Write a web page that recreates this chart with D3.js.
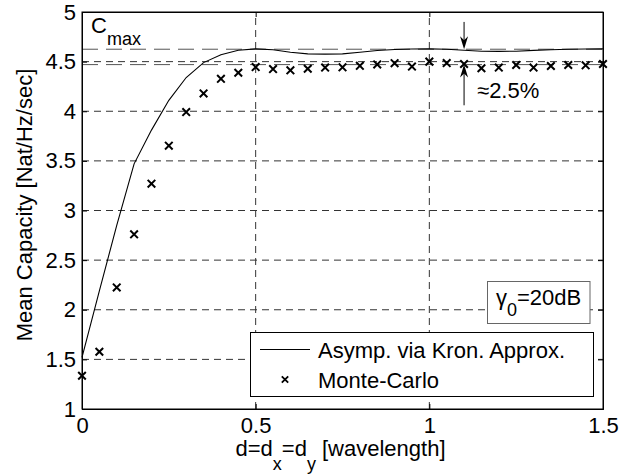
<!DOCTYPE html>
<html><head><meta charset="utf-8">
<script src="https://cdn.jsdelivr.net/npm/d3@7"></script>
<style>
html,body{margin:0;padding:0;background:#fff;}
svg text{font-family:"Liberation Sans",Arial,sans-serif;fill:#000;}
</style></head>
<body><svg id="c" width="640" height="474"></svg>
<script>
// ---- data ----
const dVals   = [0,0.05,0.1,0.15,0.2,0.25,0.3,0.35,0.4,0.45,0.5,0.55,0.6,0.65,0.7,0.75,0.8,0.85,0.9,0.95,1.0,1.05,1.1,1.15,1.2,1.25,1.3,1.35,1.4,1.45,1.5];
const asympC  = [1.52,2.19,2.85,3.47,3.81,4.11,4.34,4.49,4.57,4.615,4.628,4.62,4.595,4.578,4.576,4.578,4.595,4.612,4.622,4.627,4.628,4.624,4.615,4.605,4.603,4.605,4.613,4.62,4.625,4.627,4.628];
const monteC  = [1.335,1.577,2.225,2.76,3.27,3.653,3.992,4.18,4.327,4.388,4.445,4.425,4.412,4.428,4.44,4.443,4.458,4.472,4.484,4.45,4.5,4.485,4.476,4.433,4.44,4.466,4.44,4.456,4.466,4.463,4.476];
const xTicks  = [0,0.5,1,1.5];
const yTicks  = [1,1.5,2,2.5,3,3.5,4,4.5,5];
const refLines = [4.625,4.47];           // C_max and ~2.5% below
const arrowX  = 1.1;
const arrowDown = [4.9,4.625];           // from, to
const arrowUp   = [4.06,4.47];           // from, to
const legendLabels = ["Asymp. via Kron. Approx.","Monte-Carlo"];

// ---- layout ----
const svg = d3.select("#c");
const L=82,R=603,T=12,B=409;
const x = d3.scaleLinear().domain([0,1.5]).range([L,R]);
const y = d3.scaleLinear().domain([1,5]).range([B,T]);
const FS = 22, SUB = 18;

// grid
const g = svg.append("g");
g.selectAll(".gy").data(yTicks.filter(v=>v>1&&v<5)).join("line")
  .attr("x1",L).attr("x2",R).attr("y1",d=>y(d)).attr("y2",d=>y(d))
  .attr("stroke","#333").attr("stroke-width",1).attr("stroke-dasharray","7,5");
g.selectAll(".gx").data(xTicks.filter(v=>v>0&&v<1.5)).join("line")
  .attr("y1",B).attr("y2",T).attr("x1",d=>x(d)).attr("x2",d=>x(d))
  .attr("stroke","#333").attr("stroke-width",1).attr("stroke-dasharray","7,5");

// reference lines
g.selectAll(".ref").data(refLines).join("line")
  .attr("x1",L).attr("x2",R).attr("y1",d=>y(d)).attr("y2",d=>y(d))
  .attr("stroke","#555").attr("stroke-width",1).attr("stroke-dasharray","16,8");

// asymptotic curve
svg.append("path").datum(dVals.map((d,i)=>[d,asympC[i]]))
  .attr("d",d3.line().x(d=>x(d[0])).y(d=>y(d[1])))
  .attr("fill","none").attr("stroke","#000").attr("stroke-width",1.1);

// monte carlo markers
const cross = s=>`M${-s},${-s}L${s},${s}M${-s},${s}L${s},${-s}`;
svg.selectAll(".mc").data(dVals.map((d,i)=>[d,monteC[i]])).join("path")
  .attr("transform",d=>`translate(${x(d[0])},${y(d[1])})`)
  .attr("d",cross(3.8)).attr("stroke","#000").attr("stroke-width",2).attr("fill","none");

// axes
const ax = d3.axisBottom(x).tickValues(xTicks).tickSize(-5).tickPadding(8).tickFormat(d3.format("~g"));
const ay = d3.axisLeft(y).tickValues(yTicks).tickSize(-5).tickPadding(6).tickFormat(d3.format("~g"));
const gx = svg.append("g").attr("transform",`translate(0,${B})`).call(ax);
const gy = svg.append("g").attr("transform",`translate(${L},0)`).call(ay);
svg.append("g").attr("transform",`translate(0,${T})`).call(d3.axisTop(x).tickValues(xTicks).tickSize(-5).tickFormat(""));
svg.append("g").attr("transform",`translate(${R},0)`).call(d3.axisRight(y).tickValues(yTicks).tickSize(-5).tickFormat(""));
svg.selectAll(".domain").attr("stroke","#000");
svg.selectAll(".tick line").attr("stroke","#000");
gx.selectAll("text").attr("font-size",FS).attr("font-family","Liberation Sans, Arial").attr("fill","#000").attr("dy","0.71em");
gy.selectAll("text").attr("font-size",FS).attr("font-family","Liberation Sans, Arial").attr("fill","#000");
svg.append("rect").attr("x",L).attr("y",T).attr("width",R-L).attr("height",B-T)
  .attr("fill","none").attr("stroke","#000").attr("stroke-width",1);

// axis labels
const xl = svg.append("text").attr("x",(L+R)/2 - 2).attr("y",456).attr("text-anchor","middle").attr("font-size",FS);
xl.append("tspan").text("d=d");
xl.append("tspan").attr("font-size",SUB).attr("dy",14).text("x");
xl.append("tspan").attr("dy",-14).text("=d");
xl.append("tspan").attr("font-size",SUB).attr("dy",14).text("y");
xl.append("tspan").attr("dy",-14).text(" [wavelength]");
svg.append("text").attr("transform","translate(32,205) rotate(-90)")
  .attr("text-anchor","middle").attr("font-size",FS).text("Mean Capacity [Nat/Hz/sec]");

// C_max label
const cm = svg.append("text").attr("x",91).attr("y",33).attr("font-size",FS);
cm.append("tspan").text("C");
cm.append("tspan").attr("font-size",SUB).attr("dy",12).text("max");

// arrows
function arrow(xv,from,to){
  const x0=x(xv), y0=y(from), y1=y(to);
  const dir = Math.sign(y1-y0);
  svg.append("line").attr("x1",x0).attr("x2",x0).attr("y1",y0).attr("y2",y1-dir*8)
    .attr("stroke","#000").attr("stroke-width",1);
  svg.append("path").attr("d",`M${x0},${y1}L${x0-4},${y1-dir*13}L${x0},${y1-dir*9}L${x0+4},${y1-dir*13}Z`)
    .attr("fill","#000");
}
arrow(arrowX,arrowDown[0],arrowDown[1]);
arrow(arrowX,arrowUp[0],arrowUp[1]);
svg.append("text").attr("x",x(arrowX)+13).attr("y",98).attr("font-size",FS).text("\u22482.5%");

// gamma box
svg.append("rect").attr("x",487.5).attr("y",281.5).attr("width",102.5).attr("height",42)
  .attr("fill","#fff").attr("stroke","#666").attr("stroke-width",1);
const gt = svg.append("text").attr("x",496).attr("y",305).attr("font-size",FS);
gt.append("tspan").text("\u03B3");
gt.append("tspan").attr("font-size",SUB).attr("dy",11).text("0");
gt.append("tspan").attr("dy",-11).text("=20dB");

// legend
svg.append("rect").attr("x",250.5).attr("y",332.5).attr("width",343).attr("height",64)
  .attr("fill","#fff").attr("stroke","#000").attr("stroke-width",1);
svg.append("line").attr("x1",260).attr("x2",310).attr("y1",349.5).attr("y2",349.5)
  .attr("stroke","#000").attr("stroke-width",1);
svg.append("path").attr("transform","translate(285,379.5)").attr("d",cross(3.2))
  .attr("stroke","#000").attr("stroke-width",1.8).attr("fill","none");
svg.selectAll(".lt").data(legendLabels).join("text")
  .attr("x",318).attr("y",(d,i)=>358+i*30).attr("font-size",FS).text(d=>d);
</script></body></html>
